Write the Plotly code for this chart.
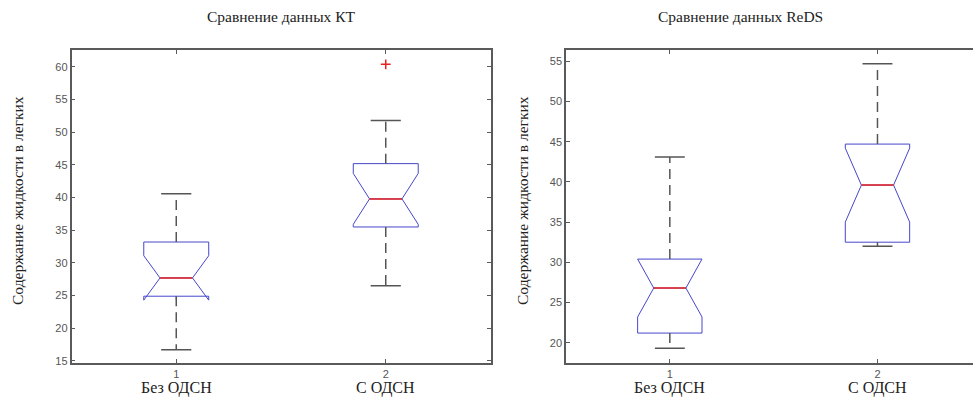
import plotly.graph_objects as go

W, H = 973, 399

categories = ["Без ОДСН", "С ОДСН"]
positions = [1, 2]
tick_labels = ["1", "2"]

panel_titles = ["Сравнение данных КТ", "Сравнение данных ReDS"]
y_title = "Содержание жидкости в легких"

# Panel 1: CT
kt_lower = [16.7, 26.5]
kt_q1 = [24.9, 35.5]
kt_median = [27.7, 39.8]
kt_q3 = [33.2, 45.2]
kt_upper = [40.6, 51.8]
kt_notch = [3.4, 3.9]
kt_outliers_x = [2]
kt_outliers_y = [60.4]

# Panel 2: ReDS
reds_lower = [19.3, 32.0]
reds_q1 = [21.2, 32.5]
reds_median = [26.8, 39.6]
reds_q3 = [30.4, 44.7]
reds_upper = [43.1, 54.7]
reds_notch = [3.6, 4.6]

box_width = 0.31
cap_half = 0.072
notch_frac = 0.25

BLUE = "#4646cc"
RED = "#e82020"
WH = "#555555"
FRAME = "#5a5a5a"

fig = go.Figure()

def add_panel(xa, ya, lo, q1, med, q3, up, notch):
    fig.add_trace(go.Box(
        x=positions, q1=q1, median=med, q3=q3,
        lowerfence=q1, upperfence=q3, notchspan=notch,
        notched=True, notchwidth=notch_frac, width=box_width,
        whiskerwidth=0, line=dict(color=BLUE, width=1),
        fillcolor="rgba(0,0,0,0)", boxpoints=False,
        xaxis=xa, yaxis=ya, showlegend=False, hoverinfo="skip"))
    for p, l, a, m, b, u in zip(positions, lo, q1, med, q3, up):
        fig.add_trace(go.Scatter(x=[p, p, None, p, p], y=[b, u, None, a, l],
                                 mode="lines", line=dict(color=WH, width=1.5, dash="10px,6px"),
                                 xaxis=xa, yaxis=ya, showlegend=False, hoverinfo="skip"))
        fig.add_trace(go.Scatter(x=[p - cap_half, p + cap_half, None, p - cap_half, p + cap_half],
                                 y=[u, u, None, l, l], mode="lines",
                                 line=dict(color=WH, width=1.5),
                                 xaxis=xa, yaxis=ya, showlegend=False, hoverinfo="skip"))
        mh = box_width / 2 * (1 - 2 * notch_frac)
        fig.add_trace(go.Scatter(x=[p - mh, p + mh], y=[m, m], mode="lines",
                                 line=dict(color=RED, width=1.5),
                                 xaxis=xa, yaxis=ya, showlegend=False, hoverinfo="skip"))

add_panel("x", "y", kt_lower, kt_q1, kt_median, kt_q3, kt_upper, kt_notch)
add_panel("x2", "y2", reds_lower, reds_q1, reds_median, reds_q3, reds_upper, reds_notch)

fig.add_trace(go.Scatter(x=kt_outliers_x, y=kt_outliers_y, mode="markers",
                         marker=dict(symbol="cross-thin-open", size=7, color=RED,
                                     line=dict(color=RED, width=1.5)),
                         xaxis="x", yaxis="y", showlegend=False, hoverinfo="skip"))

tickfont = dict(family="Liberation Sans, Arial, sans-serif", size=11, color="#555555")
ydom = [1 - 366.5 / H, 1 - 50.5 / H]

axis_common = dict(showgrid=False, zeroline=False, showline=True, linecolor=FRAME,
                   linewidth=1.5, ticks="inside", ticklen=4, tickcolor=FRAME,
                   tickfont=tickfont, tickwidth=1)

fig.update_layout(
    width=W, height=H, margin=dict(l=0, r=0, t=0, b=0),
    paper_bgcolor="white", plot_bgcolor="white",
    xaxis=dict(domain=[71.5 / W, 490.5 / W], range=[0.5, 2.5], tickvals=positions,
               ticktext=tick_labels, mirror="ticks", anchor="y", **axis_common),
    yaxis=dict(domain=ydom, range=[14.7, 62.6], tickvals=list(range(15, 61, 5)),
               mirror="ticks", anchor="x", **axis_common),
    xaxis2=dict(domain=[566 / W, 1.0], range=[0.5, 2.46], tickvals=positions,
                ticktext=tick_labels, mirror="ticks", anchor="y2", **axis_common),
    yaxis2=dict(domain=ydom, range=[17.5, 56.4], tickvals=list(range(20, 56, 5)),
                anchor="x2", **axis_common),
)

serif = "Liberation Serif, Times New Roman, serif"
ann = []
for title, xc in zip(panel_titles, [281, 740]):
    ann.append(dict(text=title, x=xc / W, y=1 - 17 / H, xref="paper", yref="paper",
                    xanchor="center", yanchor="middle", showarrow=False,
                    font=dict(family=serif, size=15.5, color="#222")))
for xp in [18, 523]:
    ann.append(dict(text=y_title, x=xp / W, y=1 - 203 / H, xref="paper", yref="paper",
                    xanchor="center", yanchor="middle",
                    textangle=-90, showarrow=False, font=dict(family=serif, size=15.5, color="#222")))
for xr in ["x", "x2"]:
    for p, c in zip(positions, categories):
        ann.append(dict(text=c, x=p, y=1 - 392 / H, xref=xr, yref="paper", showarrow=False,
                        xanchor="center", yanchor="middle",
                        font=dict(family=serif, size=16, color="#222")))
fig.update_layout(annotations=ann)

fig.write_html("out.html", config={"displayModeBar": False},
               post_script="document.body.style.margin='0';document.body.style.overflow='hidden';")
